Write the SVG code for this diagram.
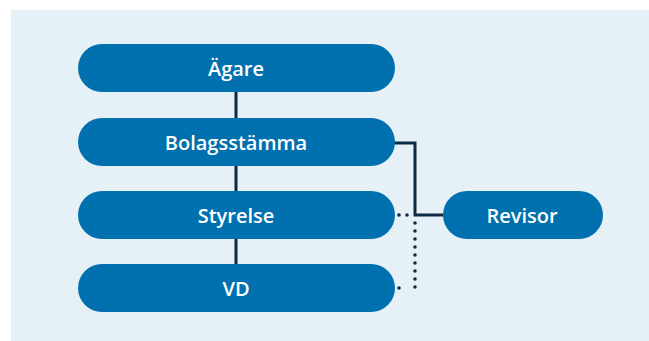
<svg xmlns="http://www.w3.org/2000/svg" width="649" height="341" viewBox="0 0 649 341">
<style>
.node rect{fill:#0071ae}
.node text{fill:#ffffff;font-family:"Open Sans","Noto Sans",sans-serif;font-weight:600;font-size:20px;text-anchor:middle}
.solid{stroke:#0d2a45;stroke-width:3;fill:none}
.dotted{stroke:#0d2a45;stroke-width:3.6;fill:none;stroke-linecap:round;stroke-dasharray:0 8}
</style>
<rect x="0" y="0" width="649" height="341" fill="#ffffff"/>
<rect x="11" y="10" width="638" height="331" fill="#e5f0f7"/>
<g id="connectors">
<line class="solid" x1="236" y1="92" x2="236" y2="118"/>
<line class="solid" x1="236" y1="166" x2="236" y2="191"/>
<line class="solid" x1="236" y1="239" x2="236" y2="264"/>
<polyline class="solid" points="393,143 415,143 415,215 444,215"/>
<path class="dotted" d="M399,215 H415 M415,223 V288 M399,288 H407"/>
</g>
<g id="agare" class="node"><rect x="78" y="44" width="317" height="48" rx="24"/><text x="236" y="76">Ägare</text></g>
<g id="bolagsstamma" class="node"><rect x="78" y="118" width="317" height="48" rx="24"/><text x="236" y="150">Bolagsstämma</text></g>
<g id="styrelse" class="node"><rect x="78" y="191" width="317" height="48" rx="24"/><text x="236" y="223">Styrelse</text></g>
<g id="vd" class="node"><rect x="78" y="264" width="317" height="48" rx="24"/><text x="236" y="296">VD</text></g>
<g id="revisor" class="node"><rect x="443" y="191" width="160" height="48" rx="24"/><text x="522" y="223">Revisor</text></g>
</svg>
